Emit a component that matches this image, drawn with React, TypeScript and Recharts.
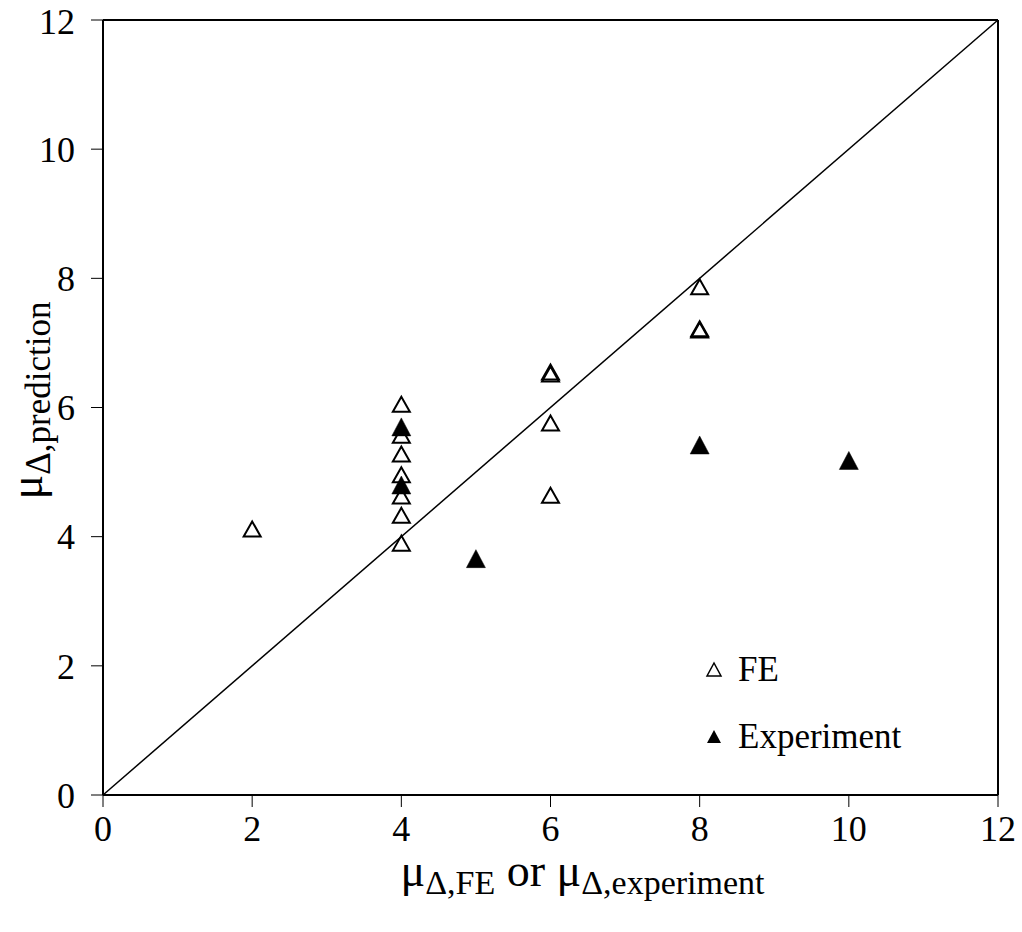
import React from "react";
import {
  ScatterChart,
  Scatter,
  XAxis,
  YAxis,
  ReferenceLine,
} from "recharts";

// FE results (open triangles)
const feX = [2, 4, 4, 4, 4, 4, 4, 4, 6, 6, 6, 6, 8, 8, 8];
const feY = [4.12, 6.05, 5.57, 5.28, 4.96, 4.63, 4.33, 3.9, 6.52, 6.55, 5.76, 4.64, 7.87, 7.2, 7.22];

// Experiment results (filled triangles)
const expX = [4, 4, 5, 8, 10];
const expY = [5.7, 4.8, 3.66, 5.42, 5.18];

const ticks = [0, 2, 4, 6, 8, 10, 12];

const feData = feX.map((x, i) => ({ x, y: feY[i] }));
const expData = expX.map((x, i) => ({ x, y: expY[i] }));

const FONT = "'Liberation Serif', 'Times New Roman', serif";

const OpenTriangle = (props: any) => {
  const { cx, cy } = props;
  return (
    <polygon
      points={`${cx},${cy - 7.5} ${cx - 8.5},${cy + 7.5} ${cx + 8.5},${cy + 7.5}`}
      fill="none"
      stroke="#000"
      strokeWidth={2}
    />
  );
};

const FilledTriangle = (props: any) => {
  const { cx, cy } = props;
  return (
    <polygon
      points={`${cx},${cy - 9} ${cx - 9.5},${cy + 9} ${cx + 9.5},${cy + 9}`}
      fill="#000"
      stroke="#000"
      strokeWidth={0.5}
    />
  );
};

const XTitle = (props: any) => {
  const vb = props.viewBox;
  return (
    <text
      x={vb.x + vb.width / 2 + 32}
      y={vb.y + 91}
      textAnchor="middle"
      fontFamily={FONT}
      fontSize={46}
      fill="#000"
    >
      <tspan>μ</tspan>
      <tspan fontSize={34} dy={8}>Δ,FE</tspan>
      <tspan dy={-8}> or μ</tspan>
      <tspan fontSize={34} dy={8}>Δ,experiment</tspan>
    </text>
  );
};

const YTitle = (props: any) => {
  const vb = props.viewBox;
  const cx = 42;
  const cy = vb.y + vb.height / 2 - 7;
  return (
    <text
      x={cx}
      y={cy}
      transform={`rotate(-90 ${cx} ${cy})`}
      textAnchor="middle"
      fontFamily={FONT}
      fontSize={46}
      fill="#000"
    >
      <tspan>μ</tspan>
      <tspan fontSize={35} dy={8}>Δ,prediction</tspan>
    </text>
  );
};

const LegendBox = () => (
  <div
    style={{
      position: "absolute",
      left: 700,
      top: 636,
      fontFamily: FONT,
      fontSize: 35,
      color: "#000",
    }}
  >
    <div style={{ display: "flex", alignItems: "center", height: 67 }}>
      <svg width={38} height={20}>
        <polygon points="14,3 7,16 21,16" fill="none" stroke="#000" strokeWidth={1.5} />
      </svg>
      <span>FE</span>
    </div>
    <div style={{ display: "flex", alignItems: "center", height: 67 }}>
      <svg width={38} height={20}>
        <polygon points="14,3 7,16 21,16" fill="#000" />
      </svg>
      <span>Experiment</span>
    </div>
  </div>
);

const App = () => {
  const tickStyle = { fontFamily: FONT, fontSize: 36, fill: "#000" };
  return (
    <div style={{ position: "absolute", left: 0, top: 0, width: 1022, height: 932 }}>
      <ScatterChart
        width={1022}
        height={932}
        margin={{ top: 20, right: 24, bottom: 0, left: 0 }}
      >
        <XAxis
          type="number"
          dataKey="x"
          domain={[0, 12]}
          ticks={ticks}
          height={137}
          axisLine={{ stroke: "#000", strokeWidth: 2 }}
          tickLine={{ stroke: "#000", strokeWidth: 1 }}
          tickSize={12}
          tickMargin={8}
          tick={tickStyle}
          label={{ content: <XTitle /> }}
        />
        <YAxis
          type="number"
          dataKey="y"
          domain={[0, 12]}
          ticks={ticks}
          width={103}
          axisLine={{ stroke: "#000", strokeWidth: 2 }}
          tickLine={{ stroke: "#000", strokeWidth: 1 }}
          tickSize={12}
          tickMargin={16}
          tick={tickStyle}
          label={{ content: <YTitle /> }}
        />
        <ReferenceLine y={12} stroke="#000" strokeWidth={2} />
        <ReferenceLine x={12} stroke="#000" strokeWidth={2} />
        <ReferenceLine
          segment={[
            { x: 0, y: 0 },
            { x: 12, y: 12 },
          ]}
          stroke="#000"
          strokeWidth={1.5}
        />
        <Scatter name="FE" data={feData} shape={<OpenTriangle />} isAnimationActive={false} />
        <Scatter name="Experiment" data={expData} shape={<FilledTriangle />} isAnimationActive={false} />
      </ScatterChart>
      <LegendBox />
    </div>
  );
};

export default App;
